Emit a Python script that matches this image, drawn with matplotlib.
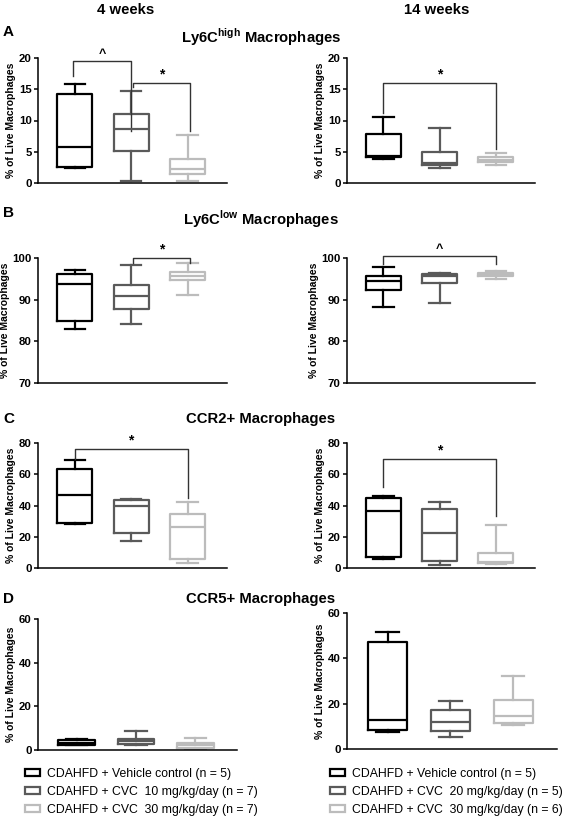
import matplotlib
matplotlib.use("Agg")
import matplotlib.pyplot as plt
from matplotlib.patches import Patch

plt.rcParams['font.family'] = ['Liberation Sans', 'DejaVu Sans']
plt.rcParams['mathtext.fontset'] = 'custom'
plt.rcParams['mathtext.rm'] = 'Liberation Sans'
plt.rcParams['mathtext.bf'] = 'Liberation Sans:bold'

# ---- data: [min, q1, median, q3, max] per group ----
colors = ['#000000', '#5a5a5a', '#bcbcbc']

ly6c_high_4w = [[2.4, 2.6, 5.8, 14.2, 15.8], [0.4, 5.1, 8.7, 11.1, 14.7], [0.3, 1.5, 2.2, 3.9, 7.7]]
ly6c_high_14w = [[3.9, 4.2, 4.4, 7.8, 10.6], [2.4, 2.9, 3.2, 5.0, 8.8], [2.9, 3.3, 3.7, 4.2, 4.8]]
ly6c_low_4w = [[82.9, 84.8, 93.7, 96.1, 97.2], [84.1, 87.7, 90.8, 93.5, 98.4], [91.1, 94.8, 95.6, 96.6, 98.7]]
ly6c_low_14w = [[88.3, 92.4, 94.6, 95.6, 97.8], [89.2, 93.9, 95.7, 96.1, 96.5], [95.0, 95.6, 96.1, 96.5, 97.0]]
ccr2_4w = [[28.1, 28.8, 46.9, 63.3, 69.3], [17.5, 22.2, 39.9, 43.3, 44.3], [3.4, 5.8, 26.0, 34.3, 42.0]]
ccr2_14w = [[5.8, 7.2, 36.5, 44.6, 46.3], [2.1, 4.3, 22.6, 38.0, 42.0], [2.5, 3.0, 3.6, 9.8, 27.3]]
ccr5_4w = [[2.1, 2.5, 3.4, 4.4, 5.0], [2.3, 2.8, 4.1, 5.1, 8.9], [0.5, 1.1, 2.1, 3.1, 5.7]]
ccr5_14w = [[7.3, 8.5, 12.8, 47.4, 51.5], [5.4, 7.8, 11.8, 17.4, 21.3], [10.7, 11.5, 14.4, 21.8, 32.4]]

# significance brackets: (x1, x2, y_top, y_drop_left, y_drop_right, label)
sig_ly6c_high_4w = [(0.97, 2.0, 19.5, 17.2, 8.4, '^'), (2.04, 3.05, 16.0, 15.3, 8.4, '*')]
sig_ly6c_high_14w = [(1.0, 3.0, 16.0, 11.2, 5.4, '*')]
sig_ly6c_low_4w = [(2.04, 3.04, 100.0, 98.8, 98.8, '*')]
sig_ly6c_low_14w = [(1.0, 3.0, 100.4, 98.6, 98.6, '^')]
sig_ccr2_4w = [(1.0, 3.0, 76.2, 69.8, 44.8, '*')]
sig_ccr2_14w = [(1.0, 3.0, 69.7, 51.8, 33.5, '*')]

legend_4w = ['CDAHFD + Vehicle control (n = 5)', 'CDAHFD + CVC  10 mg/kg/day (n = 7)', 'CDAHFD + CVC  30 mg/kg/day (n = 7)']
legend_14w = ['CDAHFD + Vehicle control (n = 5)', 'CDAHFD + CVC  20 mg/kg/day (n = 5)', 'CDAHFD + CVC  30 mg/kg/day (n = 6)']

W, H = 573, 817
fig = plt.figure(figsize=(W / 100, H / 100), dpi=100)


def px_axes(x0, x1, y0, y1):
    return fig.add_axes([x0 / W, 1 - y1 / H, (x1 - x0) / W, (y1 - y0) / H])


def draw(ax, data, ylim, yticks, sigs=()):
    stats = []
    for d in data:
        stats.append(dict(whislo=d[0], q1=d[1], med=d[2], q3=d[3], whishi=d[4], fliers=[]))
    for i, (s, c) in enumerate(zip(stats, colors)):
        ax.bxp([s], positions=[i + 1], widths=0.62, capwidths=0.36, showfliers=False,
               boxprops=dict(color=c, linewidth=1.6),
               medianprops=dict(color=c, linewidth=1.6),
               whiskerprops=dict(color=c, linewidth=1.6),
               capprops=dict(color=c, linewidth=1.6))
    ax.set_xlim(0.35, 3.7)
    ax.set_ylim(*ylim)
    ax.set_yticks(yticks)
    ax.set_xticks([])
    for sp in ['top', 'right']:
        ax.spines[sp].set_visible(False)
    for sp in ['left', 'bottom']:
        ax.spines[sp].set_linewidth(1.1)
    ax.tick_params(axis='y', length=3, width=1.1, pad=1.5, labelsize=8.2)
    for t in ax.get_yticklabels():
        t.set_fontweight('bold')
    ax.set_ylabel('% of Live Macrophages', fontsize=7.5, fontweight='bold', labelpad=2)
    span = ylim[1] - ylim[0]
    for (x1, x2, yt, yl, yr, lab) in sigs:
        ax.plot([x1, x1, x2, x2], [yl, yt, yt, yr], color='#333333', lw=1.0, clip_on=False)
        ax.text((x1 + x2) / 2, yt + span * 0.01, lab, ha='center', va='bottom',
                fontsize=10 if lab == '*' else 9, fontweight='bold', clip_on=False)


axA1 = px_axes(38, 227, 58, 183)
draw(axA1, ly6c_high_4w, (0, 20), [0, 5, 10, 15, 20], sig_ly6c_high_4w)
axA2 = px_axes(347, 535, 58, 183)
draw(axA2, ly6c_high_14w, (0, 20), [0, 5, 10, 15, 20], sig_ly6c_high_14w)
axB1 = px_axes(38, 227, 258, 383)
draw(axB1, ly6c_low_4w, (70, 100), [70, 80, 90, 100], sig_ly6c_low_4w)
axB2 = px_axes(347, 535, 258, 383)
draw(axB2, ly6c_low_14w, (70, 100), [70, 80, 90, 100], sig_ly6c_low_14w)
axC1 = px_axes(38, 227, 443, 568)
draw(axC1, ccr2_4w, (0, 80), [0, 20, 40, 60, 80], sig_ccr2_4w)
axC2 = px_axes(347, 535, 443, 568)
draw(axC2, ccr2_14w, (0, 80), [0, 20, 40, 60, 80], sig_ccr2_14w)
axD1 = px_axes(38, 237, 619, 750)
draw(axD1, ccr5_4w, (0, 60), [0, 20, 40, 60])
axD2 = px_axes(347, 557, 613, 749)
draw(axD2, ccr5_14w, (0, 60), [0, 20, 40, 60])


def ftext(x, y, s, **kw):
    fig.text(x / W, 1 - y / H, s, **kw)


ftext(126, 10, '4 weeks', ha='center', va='center', fontsize=10.7, fontweight='bold')
ftext(437, 10, '14 weeks', ha='center', va='center', fontsize=10.7, fontweight='bold')
ftext(3, 32, 'A', ha='left', va='center', fontsize=11, fontweight='bold')
ftext(3, 213, 'B', ha='left', va='center', fontsize=11, fontweight='bold')
ftext(3, 419, 'C', ha='left', va='center', fontsize=11, fontweight='bold')
ftext(3, 599, 'D', ha='left', va='center', fontsize=11, fontweight='bold')
ftext(261, 37, r'Ly6C$^{\mathbf{high}}$ Macrophages', ha='center', va='center', fontsize=10.7, fontweight='bold')
ftext(261, 219, r'Ly6C$^{\mathbf{low}}$ Macrophages', ha='center', va='center', fontsize=10.7, fontweight='bold')
ftext(261, 419, 'CCR2+ Macrophages', ha='center', va='center', fontsize=10.7, fontweight='bold')
ftext(261, 599, 'CCR5+ Macrophages', ha='center', va='center', fontsize=10.7, fontweight='bold')

for labels, x0 in [(legend_4w, 25), (legend_14w, 330)]:
    handles = [Patch(facecolor='white', edgecolor=c, linewidth=1.6) for c in colors]
    fig.legend(handles, labels, loc='upper left', bbox_to_anchor=(x0 / W, 1 - 768 / H),
               frameon=False, fontsize=8.8, handlelength=1.23, handleheight=0.5,
               handletextpad=0.6, labelspacing=0.5, borderaxespad=0, borderpad=0)

fig.savefig('out.png', dpi=100)
